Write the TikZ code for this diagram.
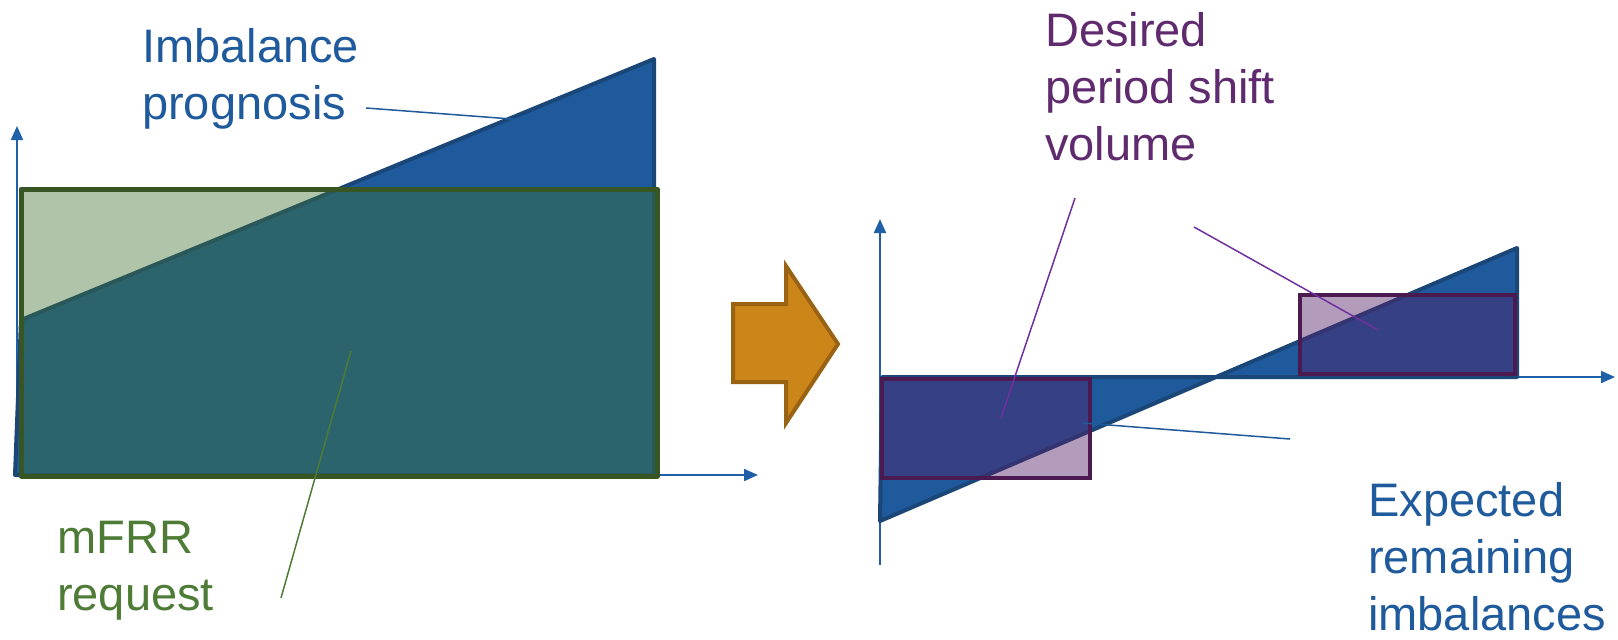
\documentclass[tikz,border=0pt]{standalone}
\usepackage{fontspec}
\setmainfont{Liberation Sans}
\usetikzlibrary{arrows.meta}
\definecolor{imbblue}{RGB}{31,90,156}
\definecolor{imbedge}{RGB}{27,70,120}
\definecolor{axisblue}{RGB}{32,96,168}
\definecolor{reqgreen}{RGB}{64,114,48}
\definecolor{reqedge}{RGB}{55,86,35}
\definecolor{reqtext}{RGB}{78,123,54}
\definecolor{shiftpurple}{RGB}{84,33,104}
\definecolor{shiftedge}{RGB}{74,26,80}
\definecolor{shifttext}{RGB}{95,43,110}
\definecolor{shiftline}{RGB}{112,48,160}
\definecolor{arrorange}{RGB}{204,133,25}
\definecolor{arredge}{RGB}{154,99,20}

\begin{document}
\begin{tikzpicture}[x=1pt,y=-1pt,
  axis/.style={draw=axisblue,line width=2pt,-{Triangle[length=14pt,width=12pt]}},
  txt/.style={anchor=north west,inner sep=0pt,align=left,font=\fontsize{47}{57}\selectfont},
  leader/.style={line width=1.5pt}]
\useasboundingbox (0,0) rectangle (1618,640);

% left graph
\coordinate (lo) at (17,476);
\coordinate (ly) at (17,126);
\coordinate (lx) at (758,475);
\draw[axis] (lo) -- (ly);
\draw[axis] (17,475) -- (lx);
\filldraw[fill=imbblue,draw=imbedge,line width=4pt,line join=round]
  (15,475) -- (21,320) -- (654,59) -- (654,475) -- cycle;
\filldraw[fill=reqgreen,fill opacity=0.42,draw=reqedge,line width=5pt,line join=round]
  (21,189) rectangle (657,476);

\node[txt,text=imbblue] (imb) at (142,28) {Imbalance\\prognosis};
\node[txt,text=reqtext] (req) at (57,521) {mFRR\\request};
\coordinate (imbs) at (366,108);
\coordinate (imbe) at (578,124);
\coordinate (reqs) at (281,598);
\coordinate (reqe) at (351,351);
\draw[leader,draw=imbblue] (imbs) -- (imbe);
\draw[leader,draw=reqtext] (reqs) -- (reqe);

% arrow between graphs
\filldraw[fill=arrorange,draw=arredge,line width=4pt,line join=miter]
  (733,304) -- (786,304) -- (786,266) -- (838,344) -- (786,423) -- (786,382) -- (733,382) -- cycle;

% right graph
\coordinate (ro) at (880,565);
\coordinate (ry) at (880,219);
\coordinate (rs) at (880,377);
\coordinate (rx) at (1615,377);
\draw[axis] (ro) -- (ry);
\draw[axis] (rs) -- (rx);
\filldraw[fill=imbblue,draw=imbedge,line width=4pt,line join=round]
  (880,521) -- (1517,248) -- (1517,377) -- (882,377) -- cycle;
\filldraw[fill=shiftpurple,fill opacity=0.45,draw=shiftedge,line width=4pt]
  (882,379) rectangle (1090,478);
\filldraw[fill=shiftpurple,fill opacity=0.45,draw=shiftedge,line width=4pt]
  (1300,295) rectangle (1515,374);

\node[txt,text=shifttext] (shift) at (1045,12) {Desired\\period shift\\volume};
\node[txt,text=imbblue] (rem) at (1368,482) {Expected\\remaining\\imbalances};
\coordinate (sha) at (1075,198);
\coordinate (shae) at (1001,418);
\coordinate (shb) at (1194,227);
\coordinate (shbe) at (1378,330);
\coordinate (rems) at (1290,439);
\coordinate (reme) at (1083,423);
\draw[leader,draw=shiftline] (sha) -- (shae);
\draw[leader,draw=shiftline] (shb) -- (shbe);
\draw[leader,draw=imbblue] (rems) -- (reme);
\end{tikzpicture}
\end{document}
